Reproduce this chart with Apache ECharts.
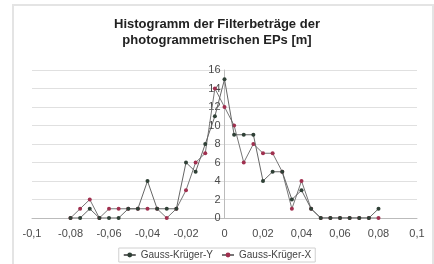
<!DOCTYPE html>
<html>
<head>
<meta charset="utf-8">
<script src="https://cdn.jsdelivr.net/npm/echarts@6/dist/echarts.min.js"></script>
<style>
  html, body { margin: 0; padding: 0; background: #fff; }
  #chart { width: 434px; height: 264px; }
</style>
</head>
<body>
<div id="chart"></div>
<script>
// Klassenmitten (Filterbetrag in m)
var binCenters = [-0.08, -0.075, -0.07, -0.065, -0.06, -0.055, -0.05, -0.045, -0.04, -0.035,
  -0.03, -0.025, -0.02, -0.015, -0.01, -0.005, 0, 0.005, 0.01, 0.015,
  0.02, 0.025, 0.03, 0.035, 0.04, 0.045, 0.05, 0.055, 0.06, 0.065,
  0.07, 0.075, 0.08];
// Häufigkeiten
var countsY = [0, 0, 1, 0, 0, 0, 1, 1, 4, 1,
  1, 1, 6, 5, 8, 11, 15, 9, 9, 9,
  4, 5, 5, 2, 3, 1, 0, 0, 0, 0,
  0, 0, 1];
var countsX = [0, 1, 2, 0, 1, 1, 1, 1, 1, 1,
  0, 1, 3, 6, 7, 14, 12, 10, 6, 8,
  7, 7, 5, 1, 4, 1, 0, 0, 0, 0,
  0, 0, 0];

function pairs(vals) {
  return binCenters.map(function (x, i) { return [x, vals[i]]; });
}

var gridLeft = 32, gridRight = 17;
var plotWidth = 434 - gridLeft - gridRight;

var chart = echarts.init(document.getElementById('chart'));
var font = 'Liberation Sans, Arial, sans-serif';
var labelStyle = { color: '#4a4a4a', fontSize: 11, fontFamily: font };

chart.setOption({
  backgroundColor: '#fff',
  animation: false,
  graphic: [{
    type: 'rect',
    shape: { x: 13, y: 5, width: 420, height: 262 },
    style: { fill: 'none', stroke: '#e4e4e4', lineWidth: 2 }
  }],
  title: {
    text: 'Histogramm der Filterbeträge der\nphotogrammetrischen EPs [m]',
    left: 'center',
    top: 11,
    textStyle: {
      fontSize: 13,
      fontWeight: 'bold',
      color: '#222',
      lineHeight: 16,
      fontFamily: font
    }
  },
  legend: {
    bottom: 2,
    left: 'center',
    itemWidth: 12,
    itemHeight: 6,
    itemGap: 8,
    padding: [2, 4],
    borderColor: '#d0d0d0',
    borderWidth: 1,
    borderRadius: 0,
    textStyle: { color: '#444', fontSize: 10, fontFamily: font },
    data: ['Gauss-Krüger-Y', 'Gauss-Krüger-X']
  },
  grid: { left: gridLeft, right: gridRight, top: 70, bottom: 46, containLabel: false },
  xAxis: {
    type: 'value',
    min: -0.1,
    max: 0.1,
    interval: 0.02,
    axisLine: { lineStyle: { color: '#bbb' } },
    axisTick: { show: false },
    splitLine: { show: false },
    axisLabel: Object.assign({
      margin: 10,
      formatter: function (v) {
        return String(parseFloat(v.toFixed(3))).replace('.', ',');
      }
    }, labelStyle)
  },
  yAxis: {
    type: 'value',
    min: 0,
    max: 16,
    interval: 2,
    // Achse bei x = 0
    offset: -plotWidth / 2,
    axisLine: { show: true, onZero: false, lineStyle: { color: '#bbb' } },
    axisTick: { show: false },
    splitLine: { lineStyle: { color: '#e0e0e0' } },
    axisLabel: Object.assign({ margin: 4 }, labelStyle)
  },
  series: [{
    name: 'Gauss-Krüger-Y',
    type: 'line',
    data: pairs(countsY),
    symbol: 'circle',
    symbolSize: 4,
    lineStyle: { color: '#666', width: 1 },
    itemStyle: { color: '#2f4036' },
    z: 3
  }, {
    name: 'Gauss-Krüger-X',
    type: 'line',
    data: pairs(countsX),
    symbol: 'circle',
    symbolSize: 4,
    lineStyle: { color: '#777', width: 1 },
    itemStyle: { color: '#a0304f' },
    z: 2
  }]
});
</script>
</body>
</html>
